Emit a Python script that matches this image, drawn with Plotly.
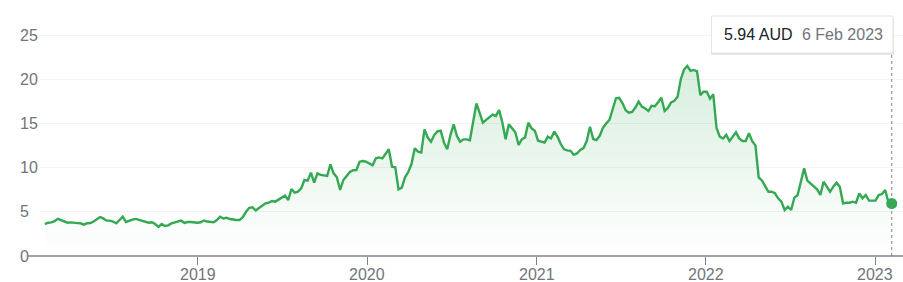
import pandas as pd
import plotly.graph_objects as go

# Weekly closing prices (AUD), 5 Feb 2018 .. 6 Feb 2023
prices = [
    3.6, 3.77, 3.8, 3.95, 4.2, 4.07, 3.87, 3.77, 3.8, 3.72,
    3.72, 3.7, 3.55, 3.7, 3.72, 3.9, 4.15, 4.4, 4.25, 4.0,
    4.0, 3.9, 3.7, 4.1, 4.45, 3.85, 4.0, 4.12, 4.2, 4.1,
    3.95, 3.82, 3.77, 3.82, 3.62, 3.3, 3.62, 3.4, 3.47, 3.68,
    3.77, 3.88, 4.0, 3.75, 3.85, 3.85, 3.8, 3.77, 3.82, 4.02,
    3.9, 3.82, 3.82, 4.07, 4.45, 4.25, 4.33, 4.18, 4.1, 4.07,
    4.07, 4.4, 5.0, 5.45, 5.5, 5.15, 5.42, 5.7, 5.96, 6.03,
    6.22, 6.15, 6.41, 6.64, 6.83, 6.33, 7.58, 7.16, 7.28, 7.65,
    8.6, 8.52, 9.43, 8.3, 9.35, 9.17, 9.1, 9.05, 10.37, 9.35,
    8.9, 7.47, 8.6, 9.0, 9.5, 9.7, 9.73, 10.67, 10.75, 10.67,
    10.45, 10.25, 11.05, 11.15, 11.05, 11.5, 12.07, 10.1, 10.03, 7.54,
    7.73, 8.9, 9.5, 10.4, 12.18, 11.8, 11.7, 14.33, 13.4, 12.93,
    13.68, 14.1, 14.18, 12.82, 12.07, 13.68, 14.9, 13.58, 12.93, 13.2,
    13.2, 13.1, 15.0, 17.27, 16.2, 15.08, 15.4, 15.75, 16.0, 15.85,
    16.52, 15.1, 13.2, 14.9, 14.4, 14.0, 12.56, 13.2, 13.42, 15.08,
    14.44, 14.18, 13.04, 12.93, 12.82, 13.5, 13.3, 14.07, 13.5, 12.67,
    12.07, 11.95, 11.9, 11.45, 11.6, 11.99, 12.2, 13.0, 14.63, 13.24,
    13.12, 13.6, 14.5, 15.0, 15.4, 16.6, 17.85, 17.9, 17.3, 16.5,
    16.21, 16.3, 16.8, 17.46, 16.9, 16.7, 16.4, 17.0, 16.95, 17.4,
    17.91, 16.4, 16.75, 17.38, 17.55, 18.02, 20.0, 21.1, 21.5, 20.95,
    21.05, 20.9, 18.2, 18.59, 18.6, 17.8, 18.29, 14.5, 13.5, 13.3,
    13.7, 13.0, 13.5, 13.99, 13.31, 13.01, 13.01, 13.88, 13.0, 12.5,
    8.9, 8.55, 7.9, 7.27, 7.27, 7.1, 6.52, 6.15, 5.2, 5.58,
    5.2, 6.6, 6.9, 8.4, 9.92, 8.52, 8.22, 7.92, 7.54, 6.9,
    8.41, 7.84, 7.27, 7.84, 8.3, 7.84, 5.96, 6.03, 6.03, 6.15,
    6.03, 7.09, 6.52, 6.9, 6.26, 6.26, 6.26, 6.9, 7.01, 7.47,
    6.05, 5.94,
]
dates = pd.date_range("2018-02-05", periods=len(prices), freq="7D")

y_ticks = [0, 5, 10, 15, 20, 25]
x_ticks = ["2019-01-01", "2020-01-01", "2021-01-01", "2022-01-01", "2023-01-01"]
x_tick_labels = ["2019", "2020", "2021", "2022", "2023"]

last_label = "5.94 AUD"
last_date_label = "6 Feb 2023"

GREEN = "#34a853"
GREY = "#70757a"
FONT = "Liberation Sans, Arial, sans-serif"

W, H = 903, 282
ML, MR, MT, MB = 40, 0, 20, 26
PW, PH = W - ML - MR, H - MT - MB


def px_x(p):
    return (p - ML) / PW


def px_y(p):
    return (H - MB - p) / PH


fig = go.Figure()
fig.add_trace(go.Scatter(
    x=dates, y=prices, mode="lines",
    line=dict(color=GREEN, width=2.4),
    fill="tozeroy",
    fillgradient=dict(type="vertical", start=0, stop=22,
                      colorscale=[[0, "rgba(52,168,83,0)"], [1, "rgba(52,168,83,0.2)"]]),
    hoverinfo="skip",
))
fig.add_trace(go.Scatter(
    x=[dates[-1]], y=[prices[-1]], mode="markers",
    marker=dict(color=GREEN, size=11), hoverinfo="skip",
))

# axis line extending left of the plot area
fig.add_shape(type="line", xref="paper", yref="paper",
              x0=px_x(28), x1=1, y0=0, y1=0,
              line=dict(color="#80868b", width=1.3), layer="above")
# dotted cursor line
fig.add_shape(type="line", xref="x", yref="paper",
              x0=dates[-1], x1=dates[-1], y0=0, y1=px_y(53),
              line=dict(color="#80868b", width=1, dash="dot"))
# tooltip box with a soft shadow
fig.add_shape(type="rect", xref="paper", yref="paper",
              x0=px_x(711), x1=px_x(894), y0=px_y(17 + 1.5), y1=px_y(53.5 + 1.5),
              line=dict(width=0), fillcolor="rgba(0,0,0,0.10)")
fig.add_shape(type="rect", xref="paper", yref="paper",
              x0=px_x(711.5), x1=px_x(893), y0=px_y(16), y1=px_y(53),
              line=dict(color="#e3e5e8", width=1), fillcolor="white")

fig.add_annotation(xref="paper", yref="paper", x=px_x(721.5), y=px_y(34.5),
                   xanchor="left", yanchor="middle", showarrow=False,
                   text=last_label, font=dict(size=16, color="#202124", family=FONT))
fig.add_annotation(xref="paper", yref="paper", x=px_x(800), y=px_y(34.5),
                   xanchor="left", yanchor="middle", showarrow=False,
                   text=last_date_label, font=dict(size=16, color=GREY, family=FONT))

# left-aligned y tick labels
for v in y_ticks:
    fig.add_annotation(xref="paper", yref="y", x=px_x(17.5), y=v,
                       xanchor="left", yanchor="middle", showarrow=False,
                       text=str(v), font=dict(size=16, color=GREY, family=FONT))

# x tick labels placed just under the tick marks
for tv, tl in zip(x_ticks, x_tick_labels):
    fig.add_annotation(xref="x", yref="paper", x=tv, y=px_y(274.5),
                       xanchor="center", yanchor="middle", showarrow=False,
                       text=tl, font=dict(size=16, color=GREY, family=FONT))

fig.update_layout(
    width=W, height=H,
    margin=dict(l=ML, r=MR, t=MT, b=MB, pad=0, autoexpand=False),
    paper_bgcolor="white", plot_bgcolor="white",
    showlegend=False,
    font=dict(family=FONT, size=16, color=GREY),
    xaxis=dict(
        type="date", automargin=False,
        range=["2018-01-25 12:00", "2023-03-02 08:00"],
        tickvals=x_ticks, showticklabels=False,
        ticks="outside", ticklen=8, tickwidth=1.3, tickcolor="#80868b",
        showgrid=False, zeroline=False, showline=False,
        fixedrange=True,
    ),
    yaxis=dict(
        automargin=False,
        range=[0, 26.7],
        tickvals=y_ticks, showticklabels=False,
        showgrid=True, gridcolor="#f1f3f4", gridwidth=1,
        zeroline=False, showline=False, ticks="",
        fixedrange=True,
    ),
)

fig.write_html("out.html", config={"displayModeBar": False})
